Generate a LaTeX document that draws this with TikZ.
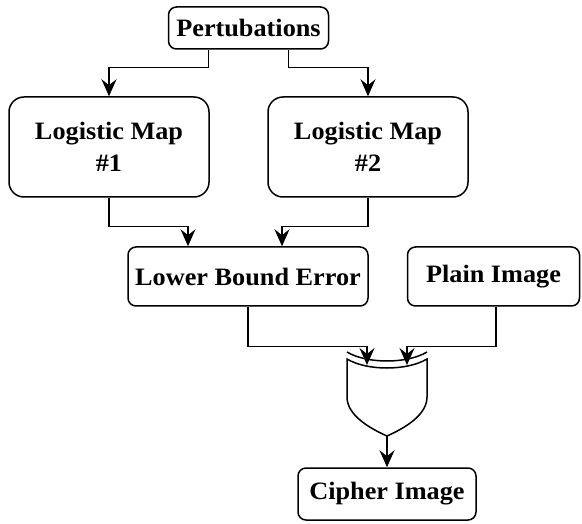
\documentclass[tikz,border=0pt]{standalone}
\usepackage{fontspec}
\setmainfont{Liberation Serif}
\usetikzlibrary{arrows.meta}
\newcommand\wt[1]{\scalebox{1.05}[1]{#1}}
\tikzset{
  blk/.style={draw, line width=1.5pt, align=center, inner sep=0pt,
    font=\bfseries\fontsize{25}{32}\selectfont},
  small/.style={blk, rounded corners=8pt},
  big/.style={blk, rounded corners=15pt},
  arr/.style={line width=1.5pt, -{Stealth[length=17pt,width=15pt,inset=6pt]}},
  wire/.style={line width=1.5pt},
}
\begin{document}
\begin{tikzpicture}[x=1pt,y=-1pt]
\useasboundingbox (0,0) rectangle (582,524);

% blocks
\node[small, minimum width=160pt, minimum height=42pt] (pert) at (248.5,28) {\wt{Pertubations}};
\node[big, minimum width=200pt, minimum height=100pt] (lm1) at (109,147) {\wt{Logistic Map}\\\wt{\#1}};
\node[big, minimum width=200pt, minimum height=100pt] (lm2) at (368,147) {\wt{Logistic Map}\\\wt{\#2}};
\node[small, minimum width=240pt, minimum height=59pt] (lbe) at (248,276.5) {\wt{Lower Bound Error}};
\node[small, minimum width=172pt, minimum height=59pt] (plain) at (493.5,276.5) {\wt{Plain Image}};
\node[small, minimum width=178pt, minimum height=52pt] (cipher) at (387,494) {\wt{Cipher Image}};

% XOR gate
\draw[wire] (347,352) .. controls (367,364) and (407,364) .. (427,352);
\draw[wire] (347,359) .. controls (367,371) and (407,371) .. (427,359)
  -- (427,397) .. controls (427,415) and (405,428) .. (387,436)
  .. controls (369,428) and (347,415) .. (347,397) -- cycle;
\coordinate (xin1) at (367,365);
\coordinate (xin2) at (407,365);
\coordinate (xout) at (387,436);

% connectors
\draw[arr] ([xshift=-40pt]pert.south) -- ++(0,18) -| (lm1.north);
\draw[arr] ([xshift=40pt]pert.south) -- ++(0,18) -| (lm2.north);
\draw[arr] (lm1.south) -- ++(0,29) -| ([xshift=-60pt]lbe.north);
\draw[arr] (lm2.south) -- ++(0,29) -| ([xshift=34pt]lbe.north);
\draw[arr] (lbe.south) -- ++(0,40) -| (xin1);
\draw[arr] ([xshift=2.5pt]plain.south) -- ++(0,40) -| (xin2);
\draw[arr] (xout) -- (cipher.north);
\end{tikzpicture}
\end{document}
